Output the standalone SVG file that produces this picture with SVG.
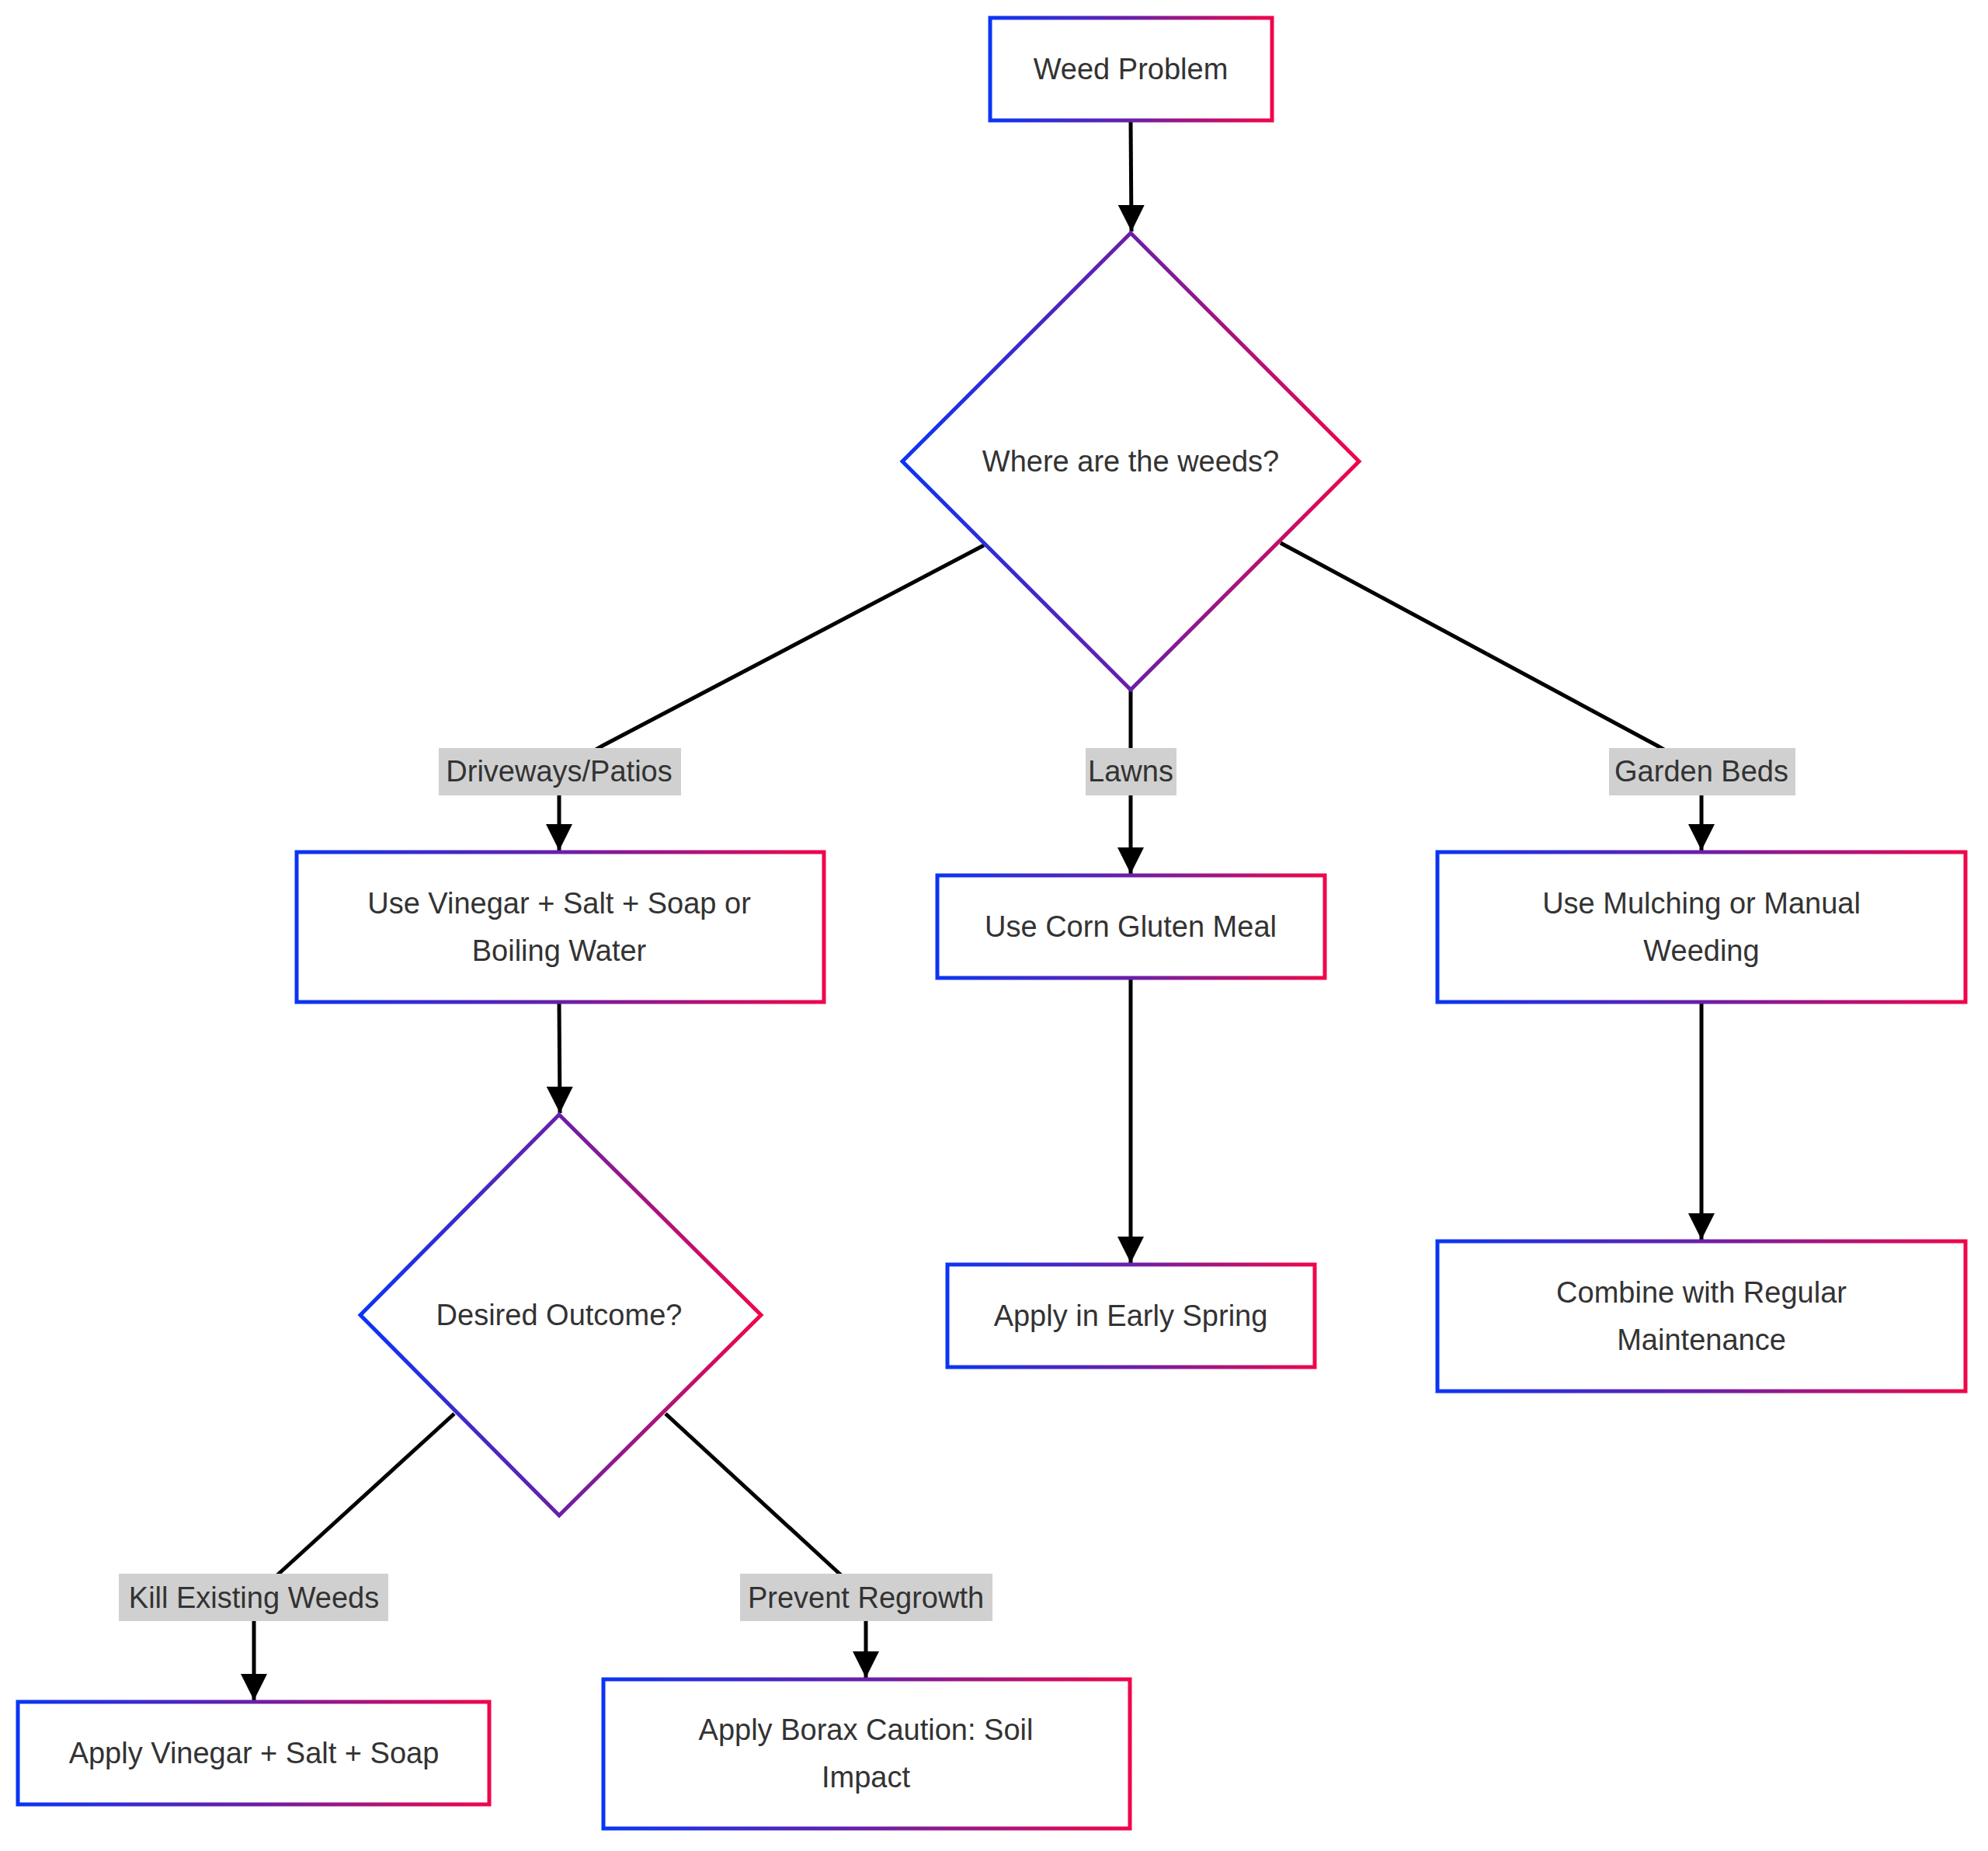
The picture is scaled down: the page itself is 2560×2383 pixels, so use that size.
<svg xmlns="http://www.w3.org/2000/svg" width="2560" height="2383" viewBox="0 0 2560 2383">
<style>
.n{fill:#fff;stroke:url(#g);stroke-width:5}
.t{font-family:"Liberation Sans",Arial,sans-serif;font-size:38px;fill:#333;text-anchor:middle;dominant-baseline:central}
.e{fill:none;stroke:#000;stroke-width:5;marker-end:url(#a)}
.lb{fill:#d0d0d0}
</style>
<defs>
<linearGradient id="g" x1="0" y1="0" x2="1" y2="0"><stop offset="0" stop-color="#0a35f5"/><stop offset="0.5" stop-color="#6a1fa8"/><stop offset="1" stop-color="#f0064a"/></linearGradient>
<marker id="a" markerUnits="userSpaceOnUse" markerWidth="34" markerHeight="34" viewBox="0 0 10 10" refX="10" refY="5" orient="auto"><path d="M0,0L10,5L0,10z" fill="#000"/></marker>
</defs>
<rect width="2560" height="2383" fill="#fff"/>
<g id="edges">
<path class="e" d="M1456,155L1457,298"/>
<path class="e" d="M1267,702L776,960L720,993L720,1095"/>
<path class="e" d="M1456,888L1456,1125"/>
<path class="e" d="M1649,699L2134,960L2191,993L2191,1095"/>
<path class="e" d="M720,1290L721,1433"/>
<path class="e" d="M1456,1259L1456,1626"/>
<path class="e" d="M2191,1290L2191,1596"/>
<path class="e" d="M585,1820L359,2026L327,2057L327,2189"/>
<path class="e" d="M857,1820L1081,2026L1115,2057L1115,2160"/>
</g>
<g id="labels">
<rect class="lb" x="565" y="963" width="312" height="61"/><text class="t" x="720" y="993">Driveways/Patios</text>
<rect class="lb" x="1398" y="963" width="117" height="61"/><text class="t" x="1456" y="993">Lawns</text>
<rect class="lb" x="2072" y="963" width="240" height="61"/><text class="t" x="2191" y="993">Garden Beds</text>
<rect class="lb" x="153" y="2026" width="347" height="61"/><text class="t" x="327" y="2057">Kill Existing Weeds</text>
<rect class="lb" x="953" y="2026" width="325" height="61"/><text class="t" x="1115" y="2057">Prevent Regrowth</text>
</g>
<g id="n1"><rect class="n" x="1275" y="23" width="363" height="132"/><text class="t" x="1456" y="89">Weed Problem</text></g>
<g id="n2"><polygon class="n" points="1456,300 1750,594 1456,888 1162,594"/><text class="t" x="1456" y="594">Where are the weeds?</text></g>
<g id="n3"><rect class="n" x="382" y="1097" width="679" height="193"/><text class="t" x="720" y="1163">Use Vinegar + Salt + Soap or</text><text class="t" x="720" y="1224">Boiling Water</text></g>
<g id="n4"><rect class="n" x="1207" y="1127" width="499" height="132"/><text class="t" x="1456" y="1193">Use Corn Gluten Meal</text></g>
<g id="n5"><rect class="n" x="1851" y="1097" width="680" height="193"/><text class="t" x="2191" y="1163">Use Mulching or Manual</text><text class="t" x="2191" y="1224">Weeding</text></g>
<g id="n6"><polygon class="n" points="720,1435 980,1693 720,1951 464,1693"/><text class="t" x="720" y="1693">Desired Outcome?</text></g>
<g id="n7"><rect class="n" x="1220" y="1628" width="473" height="132"/><text class="t" x="1456" y="1694">Apply in Early Spring</text></g>
<g id="n8"><rect class="n" x="1851" y="1598" width="680" height="193"/><text class="t" x="2191" y="1664">Combine with Regular</text><text class="t" x="2191" y="1725">Maintenance</text></g>
<g id="n9"><rect class="n" x="23" y="2191" width="607" height="132"/><text class="t" x="327" y="2257">Apply Vinegar + Salt + Soap</text></g>
<g id="n10"><rect class="n" x="777" y="2162" width="678" height="192"/><text class="t" x="1115" y="2227">Apply Borax Caution: Soil</text><text class="t" x="1115" y="2288">Impact</text></g>
</svg>
